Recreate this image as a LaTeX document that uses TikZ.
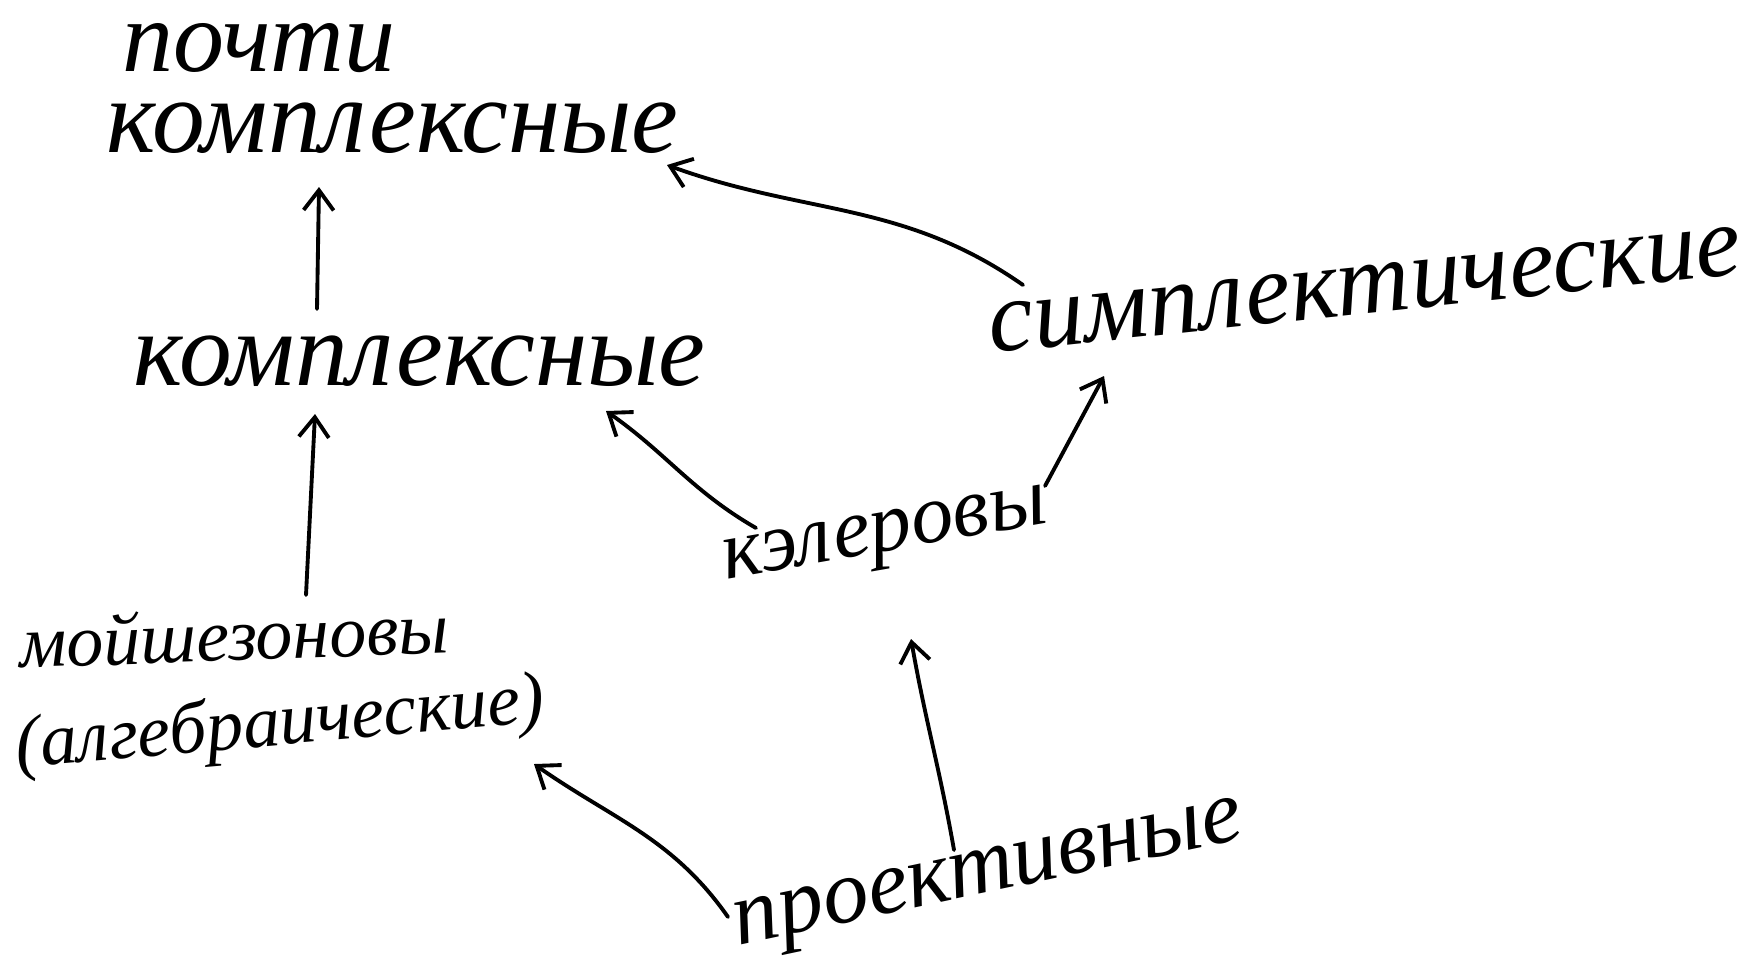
\documentclass[tikz,border=0pt]{standalone}
\usepackage{fontspec}
\setmainfont{Liberation Serif}
\usetikzlibrary{arrows.meta}
\begin{document}
\begin{tikzpicture}[x=0.1mm,y=-0.1mm,
  lbl/.style={inner sep=0pt, font=\fontsize{#1}{#1}\selectfont\itshape},
  lbl/.default=30,
  arr/.style={line width=1.1pt, line cap=round, -{Straight Barb[length=2mm,width=3mm,line width=1.1pt]}}]
\useasboundingbox (0,0) rectangle (1743,957);
\node[lbl=29, anchor=base west] (almost) at (122,71) {почти};
\node[lbl, anchor=base west] (top) at (106,152) {комплексные};
\node[lbl, anchor=base west] (mid) at (133,385) {комплексные};
\node[lbl=29, rotate=6] (sympl) at (1365,290) {симплектические};
\node[lbl=24, rotate=10] (kael) at (886,540) {кэлеровы};
\node[lbl=21, anchor=base west, rotate=2] (moish) at (20,668) {мойшезоновы};
\node[lbl=21, anchor=base west, rotate=5] (alg) at (17,768) {(алгебраические)};
\node[lbl=26, rotate=12] (proj) at (990,880) {проективные};
\draw[arr] ([xshift=18.4mm,yshift=7.6mm]mid.base west) -- ([xshift=21.3mm,yshift=-3.5mm]top.base west);
\draw[arr] ([xshift=28.6mm,yshift=7.3mm]moish.base west) -- ([xshift=18.2mm,yshift=-2.9mm]mid.base west);
\draw[arr] ([xshift=-34.2mm,yshift=0.5mm]sympl.center) to[out=145,in=-20] ([xshift=56.1mm,yshift=-1.3mm]top.base west);
\draw[arr] ([xshift=-13mm,yshift=1.2mm]kael.center) to[out=150,in=-35] ([xshift=47.3mm,yshift=-2.6mm]mid.base west);
\draw[arr] ([xshift=15.9mm,yshift=5.4mm]kael.center) -- ([xshift=-26.1mm,yshift=-8.6mm]sympl.center);
\draw[arr] ([xshift=-3.6mm,yshift=3mm]proj.center) to[out=100,in=-80] ([xshift=2.5mm,yshift=-9.9mm]kael.center);
\draw[arr] ([xshift=-26.2mm,yshift=-3.7mm]proj.center) to[out=125,in=-35] ([xshift=51.7mm,yshift=0.4mm]alg.base west);
\end{tikzpicture}
\end{document}
